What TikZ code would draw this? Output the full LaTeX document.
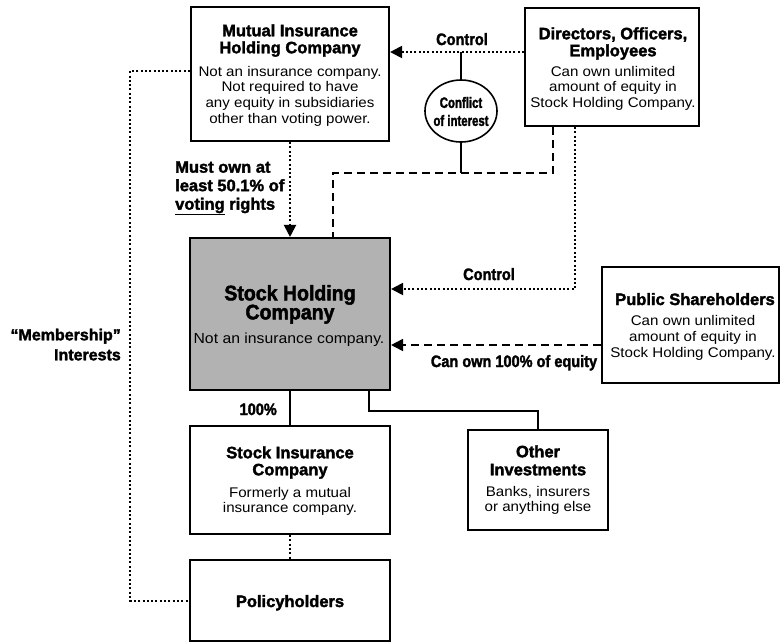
\documentclass[tikz,border=0pt]{standalone}
\usepackage{fontspec}
\setmainfont{Liberation Sans}
\newfontfamily\fHead{Liberation Sans}[FakeBold=2]
\newfontfamily\fBody{Liberation Sans}[FakeStretch=1.08]
\newfontfamily\fCond{Liberation Sans}[FakeStretch=0.76,FakeBold=2]
\newfontfamily\fLab{Liberation Sans}[FakeStretch=0.88,FakeBold=2]
\newfontfamily\fBig{Liberation Sans}[FakeStretch=0.93,FakeBold=2.2]
\usetikzlibrary{arrows.meta,shapes.geometric}
\tikzset{
  boxs/.style={draw, line width=2.1pt, inner sep=0pt},
  hd/.style={font=\fHead\bfseries\fontsize{16.5}{17}\selectfont, align=center, inner sep=0pt, anchor=north},
  bd/.style={font=\fBody\fontsize{14}{15.7}\selectfont, align=center, inner sep=0pt, anchor=north},
  lab/.style={font=\fLab\bfseries\fontsize{16.5}{19}\selectfont, inner sep=0pt},
  dotl/.style={line width=2pt, dash pattern=on 2pt off 2.3pt},
  dashl/.style={line width=1.8pt, dash pattern=on 8pt off 5pt},
  solidl/.style={line width=1.6pt},
  tip/.style={-{Triangle[length=12pt,width=12pt]}},
}
\begin{document}
\begin{tikzpicture}[x=1pt,y=-1pt]
\fill[white] (0,0) rectangle (781,641);
\useasboundingbox (0,0) rectangle (781,641);

% boxes
\node[boxs, minimum width=198pt, minimum height=134pt] (mut) at (290,74) {};
\node[boxs, minimum width=174pt, minimum height=118pt] (dir) at (612,67) {};
\node[boxs, fill=black!30, minimum width=200pt, minimum height=152pt] (shc) at (290,314) {};
\node[boxs, minimum width=177pt, minimum height=116pt] (pub) at (690.5,325) {};
\node[boxs, minimum width=200pt, minimum height=108pt] (sic) at (290,480) {};
\node[boxs, minimum width=140pt, minimum height=100pt] (oth) at (538,480) {};
\node[boxs, minimum width=200pt, minimum height=81pt] (pol) at (290,600.5) {};
\node[ellipse, draw, line width=1.6pt, minimum width=72pt, minimum height=62pt, inner sep=0pt] (conf) at (461,111) {};

% box texts
\node[hd] (mutH) at (290,24.1) {Mutual Insurance\\Holding Company};
\node[bd] (mutB) at (290,65.9) {Not an insurance company.\\Not required to have\\any equity in subsidiaries\\other than voting power.};
\node[hd] (dirH) at (613,27.1) {Directors, Officers,\\Employees};
\node[bd] (dirB) at (613,65.9) {Can own unlimited\\amount of equity in\\Stock Holding Company.};
\node[hd, font={\fBig\bfseries\fontsize{21}{19}\selectfont\lineskiplimit=-20pt}] (shcH) at (290,284.9) {Stock Holding\\Company};
\node[bd, anchor=base, font=\fBody\fontsize{14.6}{16}\selectfont] (shcB) at (289,343) {Not an insurance company.};
\node[hd, anchor=base] (pubH) at (695,305) {Public Shareholders};
\node[bd, font=\fBody\fontsize{14}{16}\selectfont] (pubB) at (693,314.9) {Can own unlimited\\amount of equity in\\Stock Holding Company.};
\node[hd] (sicH) at (290,446.1) {Stock Insurance\\Company};
\node[bd] (sicB) at (290,486.9) {Formerly a mutual\\insurance company.};
\node[hd, font=\fHead\bfseries\fontsize{16.5}{18}\selectfont] (othH) at (538,445.1) {Other\\Investments};
\node[bd] (othB) at (538,485.9) {Banks, insurers\\or anything else};
\node[hd, anchor=base] (polT) at (290,607) {Policyholders};
\node[align=center, inner sep=0pt, font=\fCond\bfseries\fontsize{15}{18}\selectfont] (confT) at (461,111.5) {Conflict\\of interest};

% labels
\node[lab, anchor=base] (ctl1) at (462,45) {Control};
\node[lab, anchor=base] (ctl2) at (489,280) {Control};
\node[lab, anchor=base] (own) at (514,367) {Can own 100\% of equity};
\node[lab, anchor=base east] (pct) at (277,415) {100\%};
\node[lab, anchor=north west, align=left, font=\fHead\bfseries\fontsize{16.5}{18.5}\selectfont] (must) at (175,161.1) {Must own at\\least 50.1\% of\\\underline{voting} rights};
\node[lab, anchor=north east, align=right, font=\fHead\bfseries\fontsize{16}{20}\selectfont] (memb) at (121,328.5) {“Membership”\\Interests};

% helper coordinates
\coordinate (c1) at (461,52);
\coordinate (c2) at (461,173);
\coordinate (d1) at (553,173);
\coordinate (d2) at (333,173);
\coordinate (e1) at (575,289);
\coordinate (e2) at (500,345);
\coordinate (f1) at (369,411);
\coordinate (g1) at (130,71);
\coordinate (g2) at (130,600.5);

% connectors
\draw[dotl, tip] (dir.west |- c1) -- (mut.east |- c1);
\draw[solidl] (conf.north) -- (c1);
\draw[solidl] (conf.south) -- (c2);
\draw[dashl] (dir.south -| d1) -- (d1) -- (d2) -- (shc.north -| d2);
\draw[dotl, tip] (mut.south) -- (shc.north);
\draw[dotl, tip] (dir.south -| e1) -- (e1) -- (shc.east |- e1);
\draw[dashl, tip] (pub.west |- e2) -- (shc.east |- e2);
\draw[solidl] (shc.south) -- (sic.north);
\draw[solidl] (shc.south -| f1) -- (f1) -- (f1 -| oth.north) -- (oth.north);
\draw[dotl] (sic.south) -- (pol.north);
\draw[dotl] (mut.west |- g1) -- (g1) -- (g2) -- (pol.west);
\end{tikzpicture}
\end{document}
